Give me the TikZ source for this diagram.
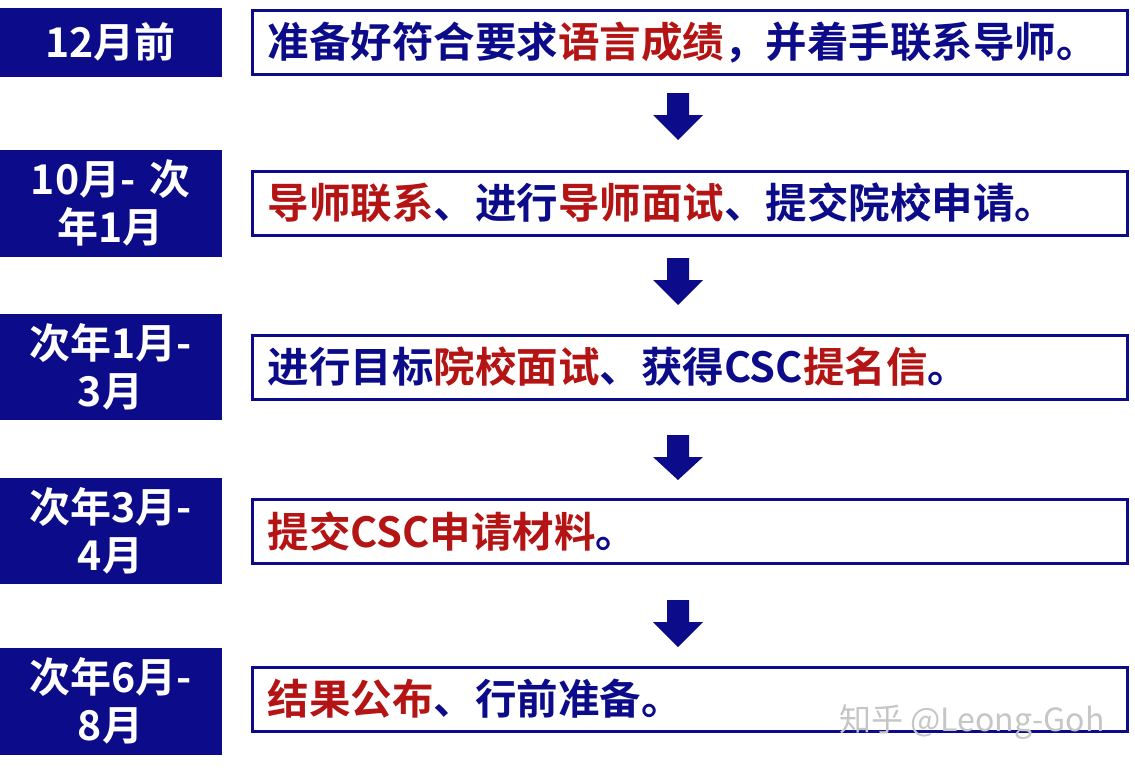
\documentclass[tikz,border=0pt]{standalone}
\usepackage{fontspec}
\setmainfont{Noto Sans CJK SC}[BoldFont={* Bold}]
\definecolor{navy}{HTML}{0C0C8A}
\definecolor{dred}{HTML}{B41414}
\begin{document}
\begin{tikzpicture}[x=1pt,y=-1pt,
  lbox/.style={fill=navy,draw=navy,minimum width=221pt,text width=215pt,align=center,text=white,font=\fontsize{41}{48}\selectfont\bfseries,inner sep=0pt},
  rbox/.style={draw=navy,line width=3pt,fill=white,minimum width=875pt,minimum height=64pt,anchor=west,text=navy,font=\fontsize{41.5}{46}\selectfont\bfseries,inner xsep=15pt,text width=845pt,align=left}]
\useasboundingbox (0,0) rectangle (1135,777);
\newcommand\rd[1]{\textcolor{dred}{#1}}
\newcommand\arr[2]{\fill[navy] (667,#1) -- (689,#1) -- (689,#1+22) -- (703,#1+22) -- (678,#2) -- (653,#1+22) -- (667,#1+22) -- cycle;}
\node[lbox,minimum height=68pt] (l1) at (110.5,42) {12月前};
\node[lbox,minimum height=106pt] (l2) at (110.5,203) {10月- 次\\年1月};
\node[lbox,minimum height=105pt] (l3) at (110.5,366.5) {次年1月-\\3月};
\node[lbox,minimum height=105pt] (l4) at (110.5,530.5) {次年3月-\\4月};
\node[lbox,minimum height=106pt] (l5) at (110.5,701) {次年6月-\\8月};
\node[rbox] (r1) at (251,42.5) {准备好符合要求\rd{语言成绩}，并着手联系导师。};
\node[rbox] (r2) at (251,203) {\rd{导师联系}、进行\rd{导师面试}、提交院校申请。};
\node[rbox] (r3) at (251,367) {进行目标\rd{院校面试}、获得CSC\rd{提名信}。};
\node[rbox] (r4) at (251,531) {\rd{提交CSC申请材料}。};
\node[rbox] (r5) at (251,699) {\rd{结果公布}、行前准备。};
\arr{93}{140}
\arr{258}{305}
\arr{435}{480}
\arr{600}{647}
\node[text=gray!45,font=\fontsize{32}{36}\selectfont,anchor=east] (wm) at (1108,722) {知乎 @Leong-Goh};
\end{tikzpicture}
\end{document}
